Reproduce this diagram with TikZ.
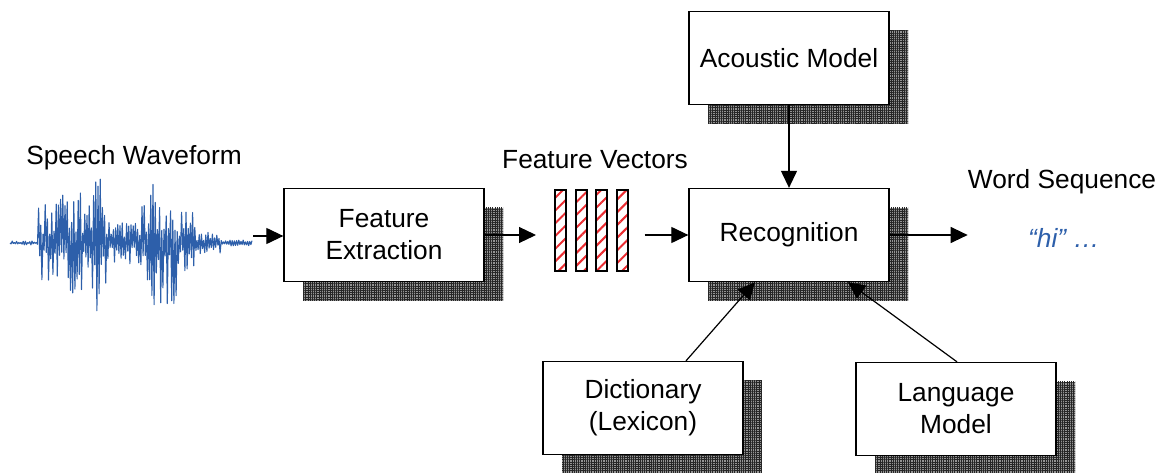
\documentclass[tikz,border=0pt]{standalone}
\usepackage{fontspec}
\setmainfont{Liberation Sans}
\usetikzlibrary{arrows.meta,patterns.meta}
\definecolor{waveblue}{RGB}{45,95,170}
\definecolor{stripe}{RGB}{235,45,50}
\begin{document}
\begin{tikzpicture}[x=1pt,y=-1pt,
  every node/.style={font=\fontsize{26.3}{32}\selectfont},
  block/.style={draw=black,line width=1.3pt,fill=white,minimum width=200pt,
    minimum height=93pt,inner sep=0pt,align=center},
  shade/.style={fill=black!42,
    postaction={pattern={Lines[angle=0,distance=2.2pt,line width=0.8pt]},pattern color=black!85},
    postaction={pattern={Lines[angle=90,distance=2.2pt,line width=0.8pt]},pattern color=black!85}},
  vecbar/.style={draw=black,line width=1.1pt,minimum width=11pt,minimum height=81pt,inner sep=0pt,
    pattern={Lines[angle=45,distance=9pt,line width=2pt]},pattern color=stripe},
  arr/.style={line width=1.2pt,-{Triangle[length=17pt,width=16pt]}},
  lbl/.style={inner sep=0pt},
  wave/.style={draw=waveblue,line width=1.1pt,line join=round},
  declare function={env(\x)=(\x<38)*2 + and(\x>=38,\x<60)*40 + and(\x>=60,\x<95)*50
    + and(\x>=95,\x<106)*76 + and(\x>=106,\x<142)*22 + and(\x>=142,\x<150)*40
    + and(\x>=150,\x<178)*64 + and(\x>=178,\x<196)*34 + and(\x>=196,\x<222)*11 + (\x>=222)*3;}
]
\useasboundingbox (0,0) rectangle (1166,473);

% drop shadows of the blocks
\foreach \cx/\cy in {384/235, 789/235, 789/58, 643/408, 956/409}
  \fill[shade] (\cx-100+19,\cy-46.5+19) rectangle (\cx+100+19,\cy+46.5+19);

% blocks
\node[block] (feat) at (384,235) {Feature\\Extraction};
\node[block] (rec) at (789,235) {Recognition};
\node[block] (am) at (789,58) {Acoustic Model};
\node[block] (dict) at (643,408) {Dictionary\\(Lexicon)};
\node[block] (lang) at (956,409) {Language\\Model};

% labels
\node[lbl] (swl) at (134,158) {Speech Waveform};
\node[lbl] (fvl) at (595,160) {Feature Vectors};
\node[lbl] (wsl) at (1062,182) {Word Sequence};
\node[lbl,text=waveblue,font=\fontsize{26.3}{32}\selectfont\itshape] (hi) at (1064,238) {“hi” \ldots};

% speech waveform
\pgfmathsetseed{17}
\draw[wave] (10,243) \foreach \i in {1,...,220} {
  -- ({10+1.1*\i},{243+env(10+1.1*\i)*(2*mod(\i,2)-1)*(0.15+0.85*rnd)}) };
\coordinate (wend) at (253,236);

% feature vectors
\node[vecbar] (fv1) at (560.5,230.5) {};
\node[vecbar] (fv2) at (581.5,230.5) {};
\node[vecbar] (fv3) at (601.5,230.5) {};
\node[vecbar] (fv4) at (622.5,230.5) {};

% connectors
\draw[arr] (wend) -- (wend -| feat.west);
\draw[arr] (feat.east) -- ([xshift=-18pt]fv1.west |- feat.east);
\draw[arr] ([xshift=16pt]fv4.east |- rec.west) -- (rec.west);
\draw[arr] (am.south) -- (rec.north);
\draw[arr] ([xshift=43pt]dict.north) -- ([xshift=-34pt]rec.south);
\draw[arr] ([xshift=1pt]lang.north) -- ([xshift=59pt]rec.south);
\draw[arr] (rec.east) -- ([xshift=78pt]rec.east);
\end{tikzpicture}
\end{document}
